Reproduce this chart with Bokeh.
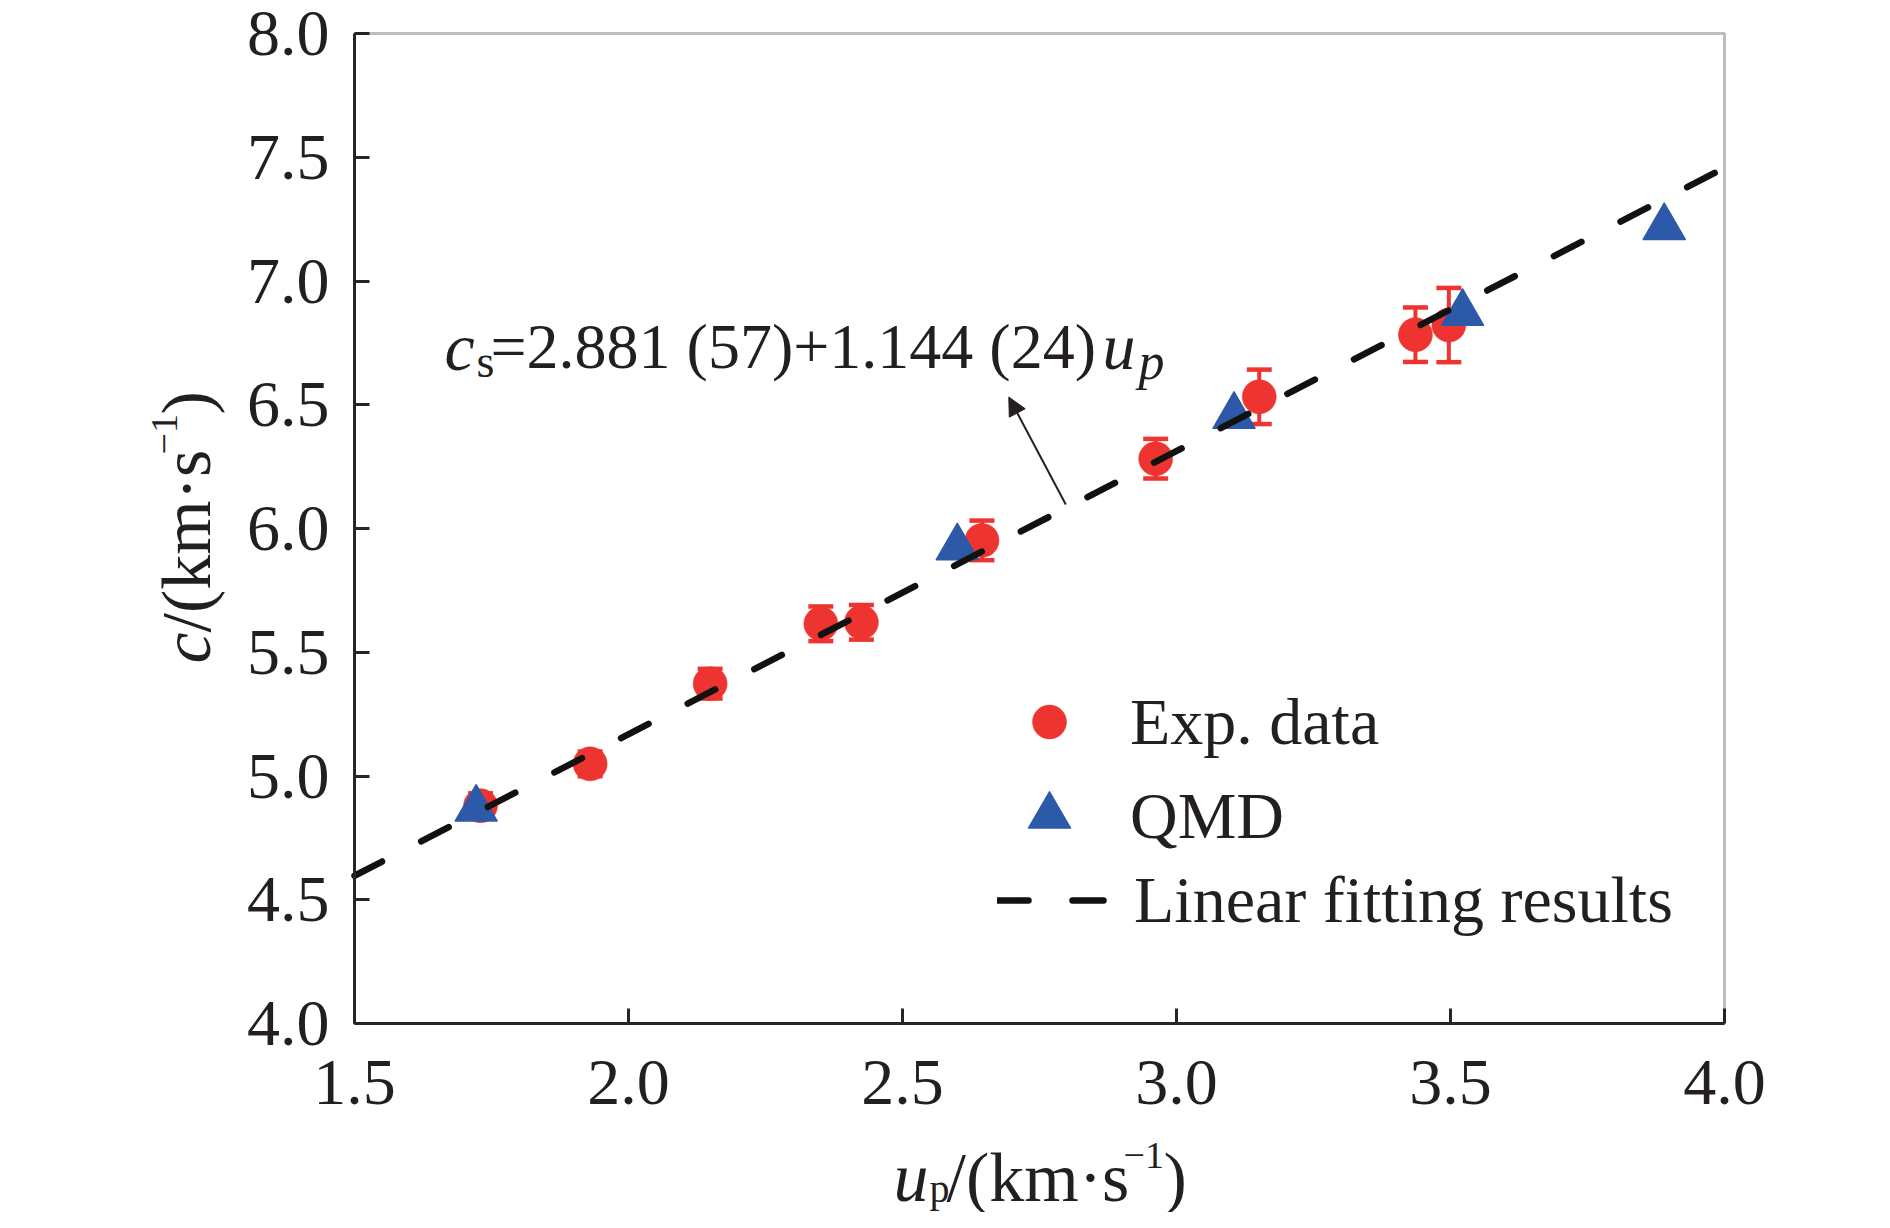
from bokeh.plotting import figure
from bokeh.models import (ColumnDataSource, Whisker, TeeHead, Label, Arrow, NormalHead,
                          Legend, LegendItem, FixedTicker, PrintfTickFormatter, Range1d,
                          LinearAxis, BoxAnnotation)
from bokeh.embed import file_html
from bokeh.resources import INLINE
import math

# ---------------- data ----------------
exp_up = [1.730, 1.930, 2.149, 2.351, 2.425, 2.645, 2.962, 3.151, 3.436, 3.497]
exp_c = [4.880, 5.049, 5.373, 5.615, 5.621, 5.952, 6.282, 6.532, 6.783, 6.822]
exp_err = [0.05, 0.05, 0.06, 0.07, 0.07, 0.08, 0.08, 0.11, 0.11, 0.15]

qmd_up = [1.722, 2.600, 3.105, 3.522, 3.890]
qmd_c = [4.867, 5.923, 6.454, 6.870, 7.217]

fit_up = [1.5, 4.0]
fit_c = [4.597, 7.457]

x_ticks = [1.5, 2.0, 2.5, 3.0, 3.5, 4.0]
y_ticks = [4.0, 4.5, 5.0, 5.5, 6.0, 6.5, 7.0, 7.5, 8.0]
x_lim = (1.5, 4.0)
y_lim = (4.0, 8.0)

legend_labels = ["Exp. data", "QMD", "Linear fitting results"]

# ---------------- layout (pixel geometry of the picture) ----------------
W, H = 1874, 1212          # canvas size
OX, OY = 0, 0              # canvas origin in picture pixels
FL, FR, FT, FB = 354, 1724, 33, 1023   # plot box edges in picture pixels
kx = (x_lim[1] - x_lim[0]) / (FR - FL)
ky = (y_lim[1] - y_lim[0]) / (FB - FT)
x0 = x_lim[0] - (FL - OX) * kx
x1 = x_lim[0] + (OX + W - FL) * kx
y1 = y_lim[1] + (FT - OY) * ky
y0 = y_lim[0] - (OY + H - FB) * ky

FONT = "Liberation Serif"
INK = "#231F20"
AX = "#262626"
RED = "#EE3430"
BLUE = "#2C5AA9"

p = figure(output_backend="svg", toolbar_location=None, width=W, height=H,
           min_border=0, x_axis_location=None, y_axis_location=None,
           x_range=Range1d(x0, x1), y_range=Range1d(y0, y1),
           background_fill_color="white", border_fill_color="white")
p.grid.visible = False
p.outline_line_color = None

def style_axis(ax, standoff):
    ax.formatter = PrintfTickFormatter(format="%.1f")
    ax.minor_tick_line_color = None
    ax.major_tick_in = 15
    ax.major_tick_out = 0
    ax.major_tick_line_width = 3
    ax.major_tick_line_color = AX
    ax.axis_line_width = 3
    ax.axis_line_color = AX
    ax.major_label_text_font = FONT
    ax.major_label_text_font_size = "66px"
    ax.major_label_text_color = INK
    ax.major_label_standoff = standoff

xaxis = LinearAxis(fixed_location=y_lim[0], bounds=x_lim, ticker=FixedTicker(ticks=x_ticks))
yaxis = LinearAxis(fixed_location=x_lim[0], bounds=y_lim, ticker=FixedTicker(ticks=y_ticks))
style_axis(xaxis, 37)
style_axis(yaxis, 25)
p.add_layout(xaxis, "below")
p.add_layout(yaxis, "left")

box = BoxAnnotation(left=x_lim[0], right=x_lim[1], bottom=y_lim[0], top=y_lim[1],
                    fill_alpha=0, line_color=AX, line_width=3)
p.add_layout(box)

# ---------------- data marks ----------------
src_exp = ColumnDataSource(dict(
    x=exp_up, y=exp_c,
    lo=[c - e for c, e in zip(exp_c, exp_err)],
    hi=[c + e for c, e in zip(exp_c, exp_err)]))

wh = Whisker(source=src_exp, base="x", lower="lo", upper="hi",
             line_color=RED, line_width=4,
             upper_head=TeeHead(size=25, line_color=RED, line_width=4.5),
             lower_head=TeeHead(size=25, line_color=RED, line_width=4.5))
p.add_layout(wh)

r_exp = p.scatter("x", "y", source=src_exp, marker="circle", size=34,
                  fill_color=RED, line_color=RED, line_width=0.5)
r_qmd = p.scatter(qmd_up, qmd_c, marker="triangle", size=42,
                  fill_color=BLUE, line_color=BLUE, line_width=1.5, line_join="round")
r_fit = p.line(fit_up, fit_c, line_color="#111111", line_width=6.5,
               line_dash="31 44", line_cap="round")

# ---------------- helpers ----------------
FIX = 14   # baseline correction of Label rendering, px

def sx(px):
    return px - OX

def sy(py):
    return OY + H - py

def lab(px, py, text, size, italic=False, angle=0.0, fix=FIX):
    if angle:
        px -= fix
    else:
        py -= fix
    p.add_layout(Label(x=sx(px), y=sy(py), x_units="screen", y_units="screen", text=text,
                       text_font=FONT, text_font_size=size,
                       text_font_style="italic" if italic else "normal",
                       text_color=INK, text_align="left",
                       text_baseline="alphabetic", angle=angle))

# ---------------- legends (one per entry so marker sizes match) ----------------
def add_legend(label, renderer, gh, left_px, bottom_px):
    lg = Legend(items=[LegendItem(label=label, renderers=[renderer])],
                location=(sx(left_px), sy(bottom_px)), orientation="vertical",
                glyph_width=112, glyph_height=gh, label_height=gh,
                label_standoff=25, label_text_font=FONT,
                label_text_font_size="66px", label_text_color=INK,
                padding=0, margin=0, spacing=0,
                border_line_alpha=0, background_fill_alpha=0)
    p.add_layout(lg)

add_legend(legend_labels[0], r_exp, 85, 993, 764)
add_legend(legend_labels[1], r_qmd, 105, 993, 868)
add_legend(legend_labels[2], r_fit, 80, 997, 940)

# ---------------- equation annotation ----------------
lab(444, 360, "c", "68px", italic=True)
lab(476, 375, "s", "46px")
lab(490, 360, "=2.881 (57)+1.144 (24)", "64px")
lab(1102, 360, "u", "66px", italic=True)
lab(1138, 375, "p", "52px", italic=True)

arrow = Arrow(x_start=2.798, y_start=6.097, x_end=2.694, y_end=6.531,
              line_color=INK, line_width=2,
              end=NormalHead(size=18, fill_color=INK, line_color=INK, line_width=1))
p.add_layout(arrow)

# ---------------- axis titles ----------------
# x title: u_p/(km·s^-1)
XF = 16
lab(893, 1193, "u", "70px", italic=True, fix=XF)
lab(929, 1204, "p", "40px", fix=XF)
lab(946, 1193, "/(km\u00b7s", "70px", fix=XF)
lab(1123, 1171, "\u22121", "38px", fix=XF)
lab(1163, 1193, ")", "70px", fix=XF)

# y title: c/(km·s^-1), rotated
A = math.pi / 2
lab(200, 663, "c", "70px", italic=True, angle=A)
lab(200, 632, "/(km\u00b7s", "70px", angle=A)
lab(178, 454, "\u22121", "38px", angle=A)
lab(200, 414, ")", "70px", angle=A)

open("out.html", "w").write(file_html(p, INLINE))
